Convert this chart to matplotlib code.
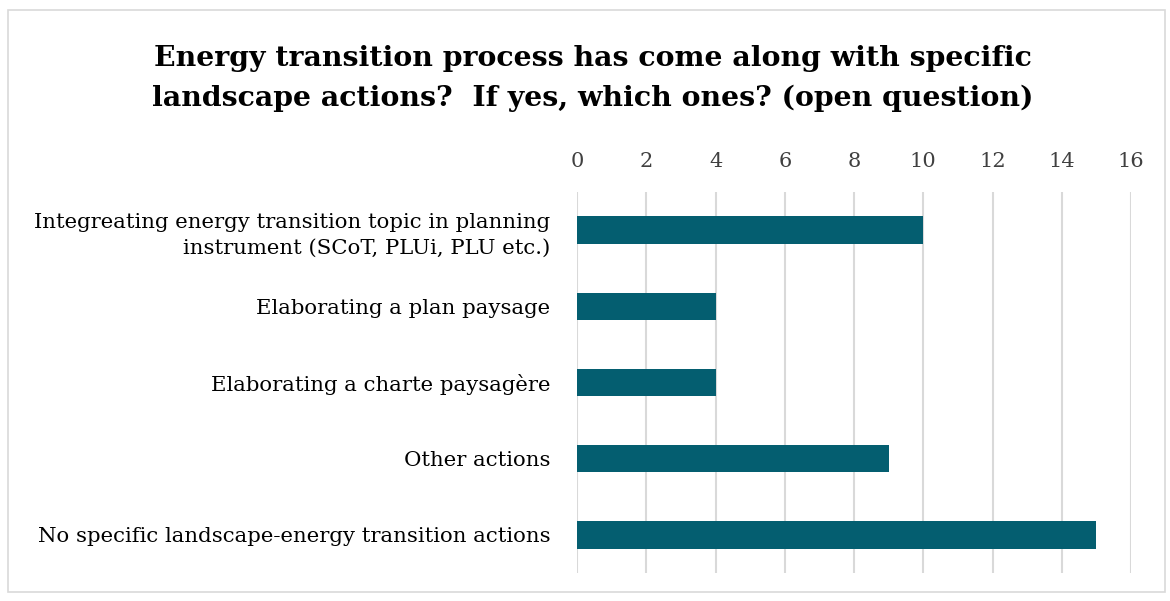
import matplotlib
matplotlib.use("Agg")
import matplotlib.pyplot as plt
from matplotlib.patches import Rectangle

categories = [
    "Integreating energy transition topic in planning\ninstrument (SCoT, PLUi, PLU etc.)",
    "Elaborating a plan paysage",
    "Elaborating a charte paysagère",
    "Other actions",
    "No specific landscape-energy transition actions",
]
values = [10, 4, 4, 9, 15]
xticks = [0, 2, 4, 6, 8, 10, 12, 14, 16]
title = "Energy transition process has come along with specific\nlandscape actions?  If yes, which ones? (open question)"

plt.rcParams['font.family'] = ['DejaVu Serif']

fig = plt.figure(figsize=(11.7, 6.01), dpi=100)
fig.patches.append(Rectangle((8/1170, 1-592/601), 1157/1170, 582/601, transform=fig.transFigure,
                             fill=False, edgecolor='#d9d9d9', linewidth=1.2))
ax = fig.add_axes([577/1170, 1-573/601, 554/1170, 381/601])
y = list(range(len(categories)))
ax.barh(y, values, height=0.36, color='#045E70', zorder=3)
ax.set_xlim(0, 16)
ax.set_ylim(len(categories)-0.5, -0.5)
ax.set_xticks(xticks)
ax.xaxis.tick_top()
ax.tick_params(axis='x', length=0, pad=15, labelsize=15, labelcolor='#404040')
ax.set_yticks(y)
ax.set_yticklabels(categories, fontsize=15.3, ha='right', linespacing=1.45)
ax.tick_params(axis='y', length=0, pad=19)
ax.grid(axis='x', color='#d9d9d9', linewidth=1.5, zorder=0)
for s in ax.spines.values():
    s.set_visible(False)
fig.text(593/1170, 1-78.5/601, title, ha='center', va='center', fontsize=20.4, fontweight='bold',
         linespacing=1.55)
fig.savefig("out.png", dpi=100)
